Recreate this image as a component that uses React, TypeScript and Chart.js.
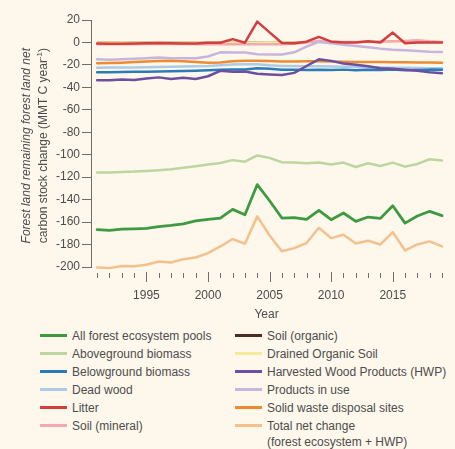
import React, { useEffect, useRef } from "react";
import { Chart, registerables } from "chart.js";

Chart.register(...registerables);

// ---------- DATA ----------
const years = [
  1991, 1992, 1993, 1994, 1995, 1996, 1997, 1998, 1999, 2000,
  2001, 2002, 2003, 2004, 2005, 2006, 2007, 2008, 2009, 2010,
  2011, 2012, 2013, 2014, 2015, 2016, 2017, 2018, 2019,
];
const yTicks = [20, 0, -20, -40, -60, -80, -100, -120, -140, -160, -180, -200];

const allForest = [-166.8, -167.4, -166.2, -166.0, -165.6, -164.0, -163.0, -161.5, -159.0, -157.5, -156.4, -148.7, -153.4, -126.6, -141.0, -156.4, -156.1, -157.6, -149.6, -157.9, -151.9, -159.4, -155.5, -156.7, -145.4, -160.9, -154.6, -150.4, -154.3];
const aboveground = [-115.9, -115.9, -115.3, -115.0, -114.4, -113.8, -112.9, -111.7, -110.3, -108.8, -107.3, -104.8, -106.2, -100.6, -102.8, -106.7, -107.0, -107.6, -107.0, -108.8, -107.0, -110.9, -107.6, -110.0, -107.0, -110.6, -108.2, -104.0, -105.2];
const belowground = [-26.5, -26.5, -26.3, -26.2, -26.0, -25.8, -25.6, -25.4, -25.1, -24.8, -24.3, -24.0, -24.0, -23.0, -23.5, -24.3, -24.3, -24.5, -24.3, -24.6, -24.2, -24.8, -24.4, -24.6, -24.2, -24.8, -24.5, -24.2, -24.4];
const deadWood = [-22.5, -22.4, -22.3, -22.2, -22.0, -21.8, -21.6, -21.4, -21.2, -21.0, -20.2, -19.6, -19.5, -19.4, -20.4, -21.0, -21.0, -21.1, -21.2, -21.5, -21.7, -21.9, -22.1, -22.3, -22.5, -22.6, -22.8, -22.9, -23.0];
const litter = [-1.0, -1.2, -1.2, -1.0, -0.8, -0.5, -0.6, -1.0, -1.0, -0.3, -0.3, 3.0, -0.2, 18.6, 9.0, -0.5, -0.7, 0.7, 5.0, 0.7, 0.0, 0.0, 1.0, 0.0, 8.8, -0.7, 0.0, 0.0, 0.0];
const soilMineral = [-1.5, -1.6, -1.6, -1.5, -1.4, -1.3, -1.3, -1.4, -1.5, -1.5, -1.6, -1.6, -1.7, -1.7, -1.6, -1.5, -1.2, 0.0, 1.2, 0.8, 0.5, 0.3, 0.5, 0.8, 1.0, 1.2, 2.0, 1.0, 0.5];
const soilOrganic = [0.3, 0.3, 0.2, 0.3, 0.3, 0.2, 0.3, 0.3, 0.2, 0.3, 0.3, 0.2, 0.3, 0.3, 0.2, 0.3, 0.3, 0.2, 0.3, 0.3, 0.2, 0.3, 0.3, 0.2, 0.3, 0.3, 0.2, 0.3, 0.3];
const drainedOrganic = [0.1, 0.1, 0.1, 0.1, 0.1, 0.1, 0.1, 0.1, 0.1, 0.1, 0.1, 0.1, 0.1, 0.1, 0.1, 0.1, 0.1, 0.1, 0.1, 0.1, 0.1, 0.1, 0.1, 0.1, 0.1, 0.1, 0.1, 0.1, 0.1];
const hwp = [-33.6, -33.6, -32.9, -33.4, -32.2, -31.1, -32.5, -31.5, -32.5, -30.1, -25.3, -26.2, -25.9, -27.8, -28.5, -29.0, -27.1, -21.0, -15.0, -16.4, -18.8, -19.8, -21.1, -23.0, -23.5, -24.4, -25.3, -26.5, -27.4];
const productsInUse = [-15.0, -15.5, -15.0, -14.5, -14.0, -13.5, -14.0, -14.0, -14.0, -12.5, -8.8, -9.0, -9.0, -10.6, -10.8, -10.8, -8.8, -3.7, 0.5, -0.7, -2.0, -3.2, -4.3, -5.5, -6.4, -7.0, -7.6, -8.2, -8.5];
const swds = [-18.5, -18.3, -18.0, -17.5, -17.0, -16.5, -16.3, -16.8, -17.3, -18.0, -17.8, -16.8, -16.3, -16.3, -16.5, -17.0, -17.0, -16.8, -16.8, -17.0, -17.2, -17.3, -17.4, -17.5, -17.6, -17.7, -17.8, -17.9, -18.0];
const totalNet = [-200.4, -201.0, -199.1, -199.4, -198.0, -195.1, -196.0, -193.0, -191.5, -187.6, -181.7, -175.1, -179.3, -154.9, -171.9, -185.9, -183.2, -178.7, -165.0, -174.3, -171.3, -179.0, -176.6, -179.9, -168.9, -185.3, -179.9, -177.2, -181.7];

const xTitle = "Year";
const yTitleLine1 = "Forest land remaining forest land net";
const yTitleLine2 = "carbon stock change (MMT C year";
const yTitleSup = "-1";
const yTitleEnd = ")";

// ---------- STYLE ----------
const BG = "#fdf7ec";
const TEXT = "#4d4d4d";
const AXIS = "#6e6e6e";
const FONT = "'Liberation Sans', Arial, Helvetica, sans-serif";

const C = {
  allForest: "#3d9a40",
  aboveground: "#bcd69f",
  belowground: "#2a7cb8",
  deadWood: "#abcbe7",
  litter: "#d13f3f",
  soilMineral: "#f2a9b0",
  soilOrganic: "#4b2e22",
  drained: "#f3ec9a",
  hwp: "#6c4f9f",
  products: "#c7b5db",
  swds: "#ec8b32",
  total: "#f4c08c",
};

const legendLeft = [
  { label: "All forest ecosystem pools", color: C.allForest },
  { label: "Aboveground biomass", color: C.aboveground },
  { label: "Belowground biomass", color: C.belowground },
  { label: "Dead wood", color: C.deadWood },
  { label: "Litter", color: C.litter },
  { label: "Soil (mineral)", color: C.soilMineral },
];
const legendRight = [
  { label: "Soil (organic)", color: C.soilOrganic },
  { label: "Drained Organic Soil", color: C.drained },
  { label: "Harvested Wood Products (HWP)", color: C.hwp },
  { label: "Products in use", color: C.products },
  { label: "Solid waste disposal sites", color: C.swds },
  { label: "Total net change\n(forest ecosystem + HWP)", color: C.total },
];

const axisDecor = {
  id: "axisDecor",
  afterDraw(chart: any) {
    const { ctx, chartArea, scales } = chart;
    const xs = scales.x;
    ctx.save();
    ctx.strokeStyle = AXIS;
    ctx.lineWidth = 1;
    years.forEach((yr) => {
      const px = Math.round(xs.getPixelForValue(yr)) + 0.5;
      const major = yr % 5 === 0;
      ctx.beginPath();
      ctx.moveTo(px, chartArea.bottom + (major ? 5 : 6));
      ctx.lineTo(px, chartArea.bottom + (major ? 15 : 11));
      ctx.stroke();
    });
    // y-axis title (two lines, first italic)
    ctx.fillStyle = TEXT;
    ctx.textBaseline = "middle";
    ctx.save();
    ctx.translate(27, 48);
    ctx.rotate(-Math.PI / 2);
    ctx.textAlign = "right";
    ctx.font = "italic 12px " + FONT;
    ctx.fillText(yTitleLine1, 0, 0);
    ctx.restore();

    ctx.save();
    ctx.translate(43.5, 48);
    ctx.rotate(-Math.PI / 2);
    ctx.textAlign = "left";
    ctx.font = "12px " + FONT;
    const w1 = ctx.measureText(yTitleLine2).width;
    const wEnd = ctx.measureText(yTitleEnd).width;
    ctx.font = "8px " + FONT;
    const wSup = ctx.measureText(yTitleSup).width;
    const total = w1 + wSup + wEnd;
    let x0 = -total;
    ctx.font = "12px " + FONT;
    ctx.fillText(yTitleLine2, x0, 0);
    x0 += w1;
    ctx.font = "8px " + FONT;
    ctx.fillText(yTitleSup, x0, -4);
    x0 += wSup;
    ctx.font = "12px " + FONT;
    ctx.fillText(yTitleEnd, x0, 0);
    ctx.restore();
    ctx.restore();
  },
};

function ds(data: number[], color: string, width = 2.5) {
  return {
    data: years.map((y, i) => ({ x: y, y: data[i] })),
    borderColor: color,
    backgroundColor: color,
    borderWidth: width,
    pointRadius: 0,
    tension: 0,
    fill: false,
    clip: false as any,
    borderJoinStyle: "round" as const,
    borderCapStyle: "round" as const,
  };
}

export default function App() {
  const ref = useRef<HTMLCanvasElement>(null);

  useEffect(() => {
    document.body.style.margin = "0";
    const canvas = ref.current!;
    const chart = new Chart(canvas, {
      type: "line",
      data: {
        datasets: [
          ds(allForest, C.allForest, 2.8),
          ds(totalNet, C.total, 2.5),
          ds(aboveground, C.aboveground, 2.5),
          ds(litter, C.litter, 2.5),
          ds(hwp, C.hwp, 2.5),
          ds(productsInUse, C.products, 2.5),
          ds(swds, C.swds, 2.5),
          ds(belowground, C.belowground, 2.5),
          ds(deadWood, C.deadWood, 2.5),
          ds(soilMineral, C.soilMineral, 2.5),
          ds(drainedOrganic, C.drained, 1.5),
          ds(soilOrganic, C.soilOrganic, 1),
        ] as any,
      },
      options: {
        animation: false,
        responsive: false,
        layout: { padding: { left: 0, right: 6, top: 20, bottom: 0 } },
        plugins: { legend: { display: false }, tooltip: { enabled: false } },
        scales: {
          x: {
            type: "linear",
            min: 1990.5,
            max: 2019,
            afterBuildTicks: (s: any) => {
              s.ticks = years.map((v) => ({ value: v }));
            },
            afterFit: (s: any) => {
              s.height = 55;
            },
            grid: { display: false },
            border: { display: false },
            ticks: {
              autoSkip: false,
              maxRotation: 0,
              padding: 13,
              color: TEXT,
              font: { size: 12, family: FONT },
              callback: (v: any) => (Number(v) % 5 === 0 ? String(v) : ""),
            },
            title: {
              display: true,
              text: xTitle,
              color: TEXT,
              font: { size: 12, family: FONT },
              padding: { top: 5, bottom: 0 },
            },
          },
          y: {
            min: -200,
            max: 20,
            afterBuildTicks: (s: any) => {
              s.ticks = yTicks.map((v) => ({ value: v }));
            },
            afterFit: (s: any) => {
              s.width = 91;
            },
            grid: { drawOnChartArea: false, tickLength: 9, color: AXIS, tickColor: AXIS },
            border: { display: true, color: AXIS, width: 1 },
            ticks: {
              padding: 2,
              color: TEXT,
              font: { size: 12, family: FONT },
              callback: (v: any) => String(v),
            },
          },
        },
      } as any,
      plugins: [axisDecor],
    });
    return () => chart.destroy();
  }, []);

  const rowY = (i: number) => 335.7 + 18 * i;
  const item = (it: { label: string; color: string }, i: number, left: number) => (
    <div
      key={it.label}
      style={{ position: "absolute", left, top: rowY(i) - 8, height: 16 }}
    >
      <div
        style={{
          position: "absolute",
          left: 0,
          top: 6.5,
          width: 27,
          height: 3,
          background: it.color,
        }}
      />
      <div
        style={{
          position: "absolute",
          left: 32,
          top: 0,
          whiteSpace: "pre",
          fontSize: 12,
          lineHeight: "16.4px",
          color: TEXT,
          fontFamily: FONT,
        }}
      >
        {it.label}
      </div>
    </div>
  );

  return (
    <div
      style={{
        position: "fixed",
        left: 0,
        top: 0,
        width: 455,
        height: 449,
        background: BG,
        overflow: "hidden",
      }}
    >
      <canvas ref={ref} width={455} height={322} style={{ position: "absolute", left: 0, top: 0 }} />
      {legendLeft.map((it, i) => item(it, i, 40))}
      {legendRight.map((it, i) => item(it, i, 235))}
    </div>
  );
}
